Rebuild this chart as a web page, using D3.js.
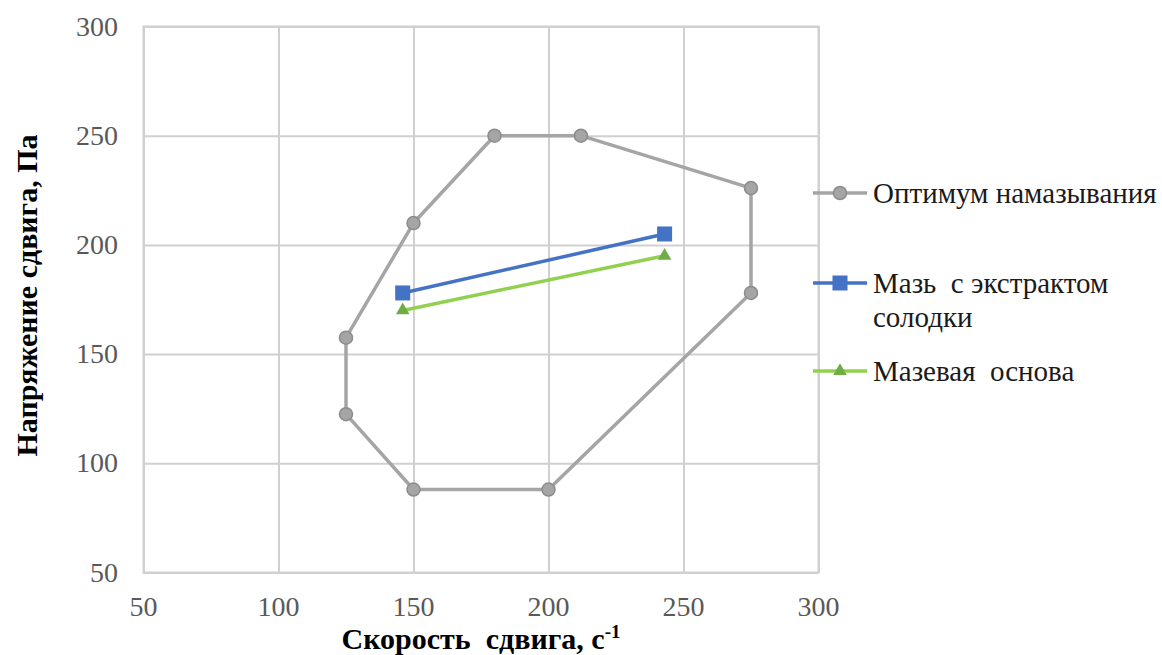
<!DOCTYPE html>
<html>
<head>
<meta charset="utf-8">
<script src="https://cdn.jsdelivr.net/npm/d3@7/dist/d3.min.js"></script>
<style>
  html, body { margin: 0; padding: 0; background: #fff; }
  svg { display: block; }
  svg text, svg tspan { font-family: "Liberation Serif", "Times New Roman", serif !important; }
</style>
</head>
<body>
<svg id="chart" width="1162" height="655"></svg>
<script>
// Shear rate (x) and shear stress (y) values
const optimumX = [150, 180, 212, 275, 275, 200, 150, 125, 125, 150];
const optimumY = [210, 250, 250, 226, 178, 88, 88, 122.5, 157.5, 210];
const ointmentX = [146, 243];
const ointmentY = [178, 205];
const baseX = [146, 243];
const baseY = [170, 195];

const xTicks = [50, 100, 150, 200, 250, 300];
const yTicks = [50, 100, 150, 200, 250, 300];

const seriesNames = ["Оптимум намазывания", ["Мазь  с экстрактом", "солодки"], "Мазевая  основа"];
const xTitle = "Скорость  сдвига, с";
const xTitleSup = "-1";
const yTitle = "Напряжение сдвига, Па";

const svg = d3.select("#chart");
const plot = { left: 143.5, right: 818.5, top: 26.5, bottom: 572.5 };

const x = d3.scaleLinear().domain([50, 300]).range([plot.left, plot.right]);
const y = d3.scaleLinear().domain([50, 300]).range([plot.bottom, plot.top]);

const gridColor = "#D0D0D0";

// Gridlines via axes
svg.append("g")
  .attr("transform", `translate(0,${plot.bottom})`)
  .call(d3.axisBottom(x).tickValues(xTicks).tickSize(-(plot.bottom - plot.top)).tickFormat(""))
  .call(g => g.select(".domain").remove())
  .call(g => g.selectAll("line").attr("stroke", gridColor).attr("stroke-width", 2));

svg.append("g")
  .attr("transform", `translate(${plot.left},0)`)
  .call(d3.axisLeft(y).tickValues(yTicks).tickSize(-(plot.right - plot.left)).tickFormat(""))
  .call(g => g.select(".domain").remove())
  .call(g => g.selectAll("line").attr("stroke", gridColor).attr("stroke-width", 2));

// Plot border
svg.append("rect")
  .attr("x", plot.left).attr("y", plot.top)
  .attr("width", plot.right - plot.left).attr("height", plot.bottom - plot.top)
  .attr("fill", "none").attr("stroke", gridColor).attr("stroke-width", 2);

// Tick labels
svg.append("g").selectAll("text").data(xTicks).join("text")
  .attr("x", d => x(d)).attr("y", 616)
  .attr("text-anchor", "middle")
  .attr("font-size", 28).attr("fill", "#595959")
  .text(d => d);

svg.append("g").selectAll("text").data(yTicks).join("text")
  .attr("x", 118).attr("y", d => y(d) + 9)
  .attr("text-anchor", "end")
  .attr("font-size", 28).attr("fill", "#595959")
  .text(d => d);

// Axis titles
const xt = svg.append("text")
  .attr("x", (plot.left + plot.right) / 2).attr("y", 649)
  .attr("text-anchor", "middle")
  .attr("font-size", 30).attr("font-weight", "bold")
  .style("white-space", "pre").attr("fill", "#000");
xt.append("tspan").text(xTitle);
xt.append("tspan").attr("dy", -11).attr("font-size", 19).text(xTitleSup);

svg.append("text")
  .attr("transform", `translate(37,${(plot.top + plot.bottom) / 2 - 4}) rotate(-90)`)
  .attr("text-anchor", "middle")
  .attr("font-size", 30).attr("font-weight", "bold")
  .attr("fill", "#000")
  .text(yTitle);

const line = d3.line().x(d => x(d[0])).y(d => y(d[1]));
const zip = (a, b) => a.map((v, i) => [v, b[i]]);

const optimum = zip(optimumX, optimumY);
const ointment = zip(ointmentX, ointmentY);
const base = zip(baseX, baseY);

const colors = {
  opt: "#A5A5A5", optStroke: "#8C8C8C",
  blue: "#4472C4",
  greenLine: "#92D050", greenMarker: "#70AD47"
};

// Optimum region outline
svg.append("path").datum(optimum)
  .attr("d", line).attr("fill", "none")
  .attr("stroke", colors.opt).attr("stroke-width", 3.5).attr("stroke-linejoin", "round");

svg.append("g").selectAll("circle").data(optimum.slice(0, -1)).join("circle")
  .attr("cx", d => x(d[0])).attr("cy", d => y(d[1])).attr("r", 6.5)
  .attr("fill", colors.opt).attr("stroke", colors.optStroke).attr("stroke-width", 1.5);

// Ointment with licorice extract
svg.append("path").datum(ointment)
  .attr("d", line).attr("fill", "none")
  .attr("stroke", colors.blue).attr("stroke-width", 3.5);

const sq = 15;
svg.append("g").selectAll("rect").data(ointment).join("rect")
  .attr("x", d => x(d[0]) - sq / 2).attr("y", d => y(d[1]) - sq / 2)
  .attr("width", sq).attr("height", sq).attr("fill", colors.blue);

// Ointment base
svg.append("path").datum(base)
  .attr("d", line).attr("fill", "none")
  .attr("stroke", colors.greenLine).attr("stroke-width", 3.5);

const tri = d3.symbol().type(d3.symbolTriangle).size(80);
svg.append("g").selectAll("path").data(base).join("path")
  .attr("transform", d => `translate(${x(d[0])},${y(d[1])})`)
  .attr("d", tri).attr("fill", colors.greenMarker);

// Legend
const legend = svg.append("g");
const legendRows = [
  { y: 193, type: "circle" },
  { y: 283, type: "square" },
  { y: 371, type: "triangle" }
];
const lx0 = 813, lx1 = 867, lmx = 840, ltx = 873;

legendRows.forEach((row, i) => {
  const g = legend.append("g");
  const stroke = i === 0 ? colors.opt : i === 1 ? colors.blue : colors.greenLine;
  g.append("line").attr("x1", lx0).attr("x2", lx1).attr("y1", row.y).attr("y2", row.y)
    .attr("stroke", stroke).attr("stroke-width", 3.5);
  if (row.type === "circle") {
    g.append("circle").attr("cx", lmx).attr("cy", row.y).attr("r", 6.5)
      .attr("fill", colors.opt).attr("stroke", colors.optStroke).attr("stroke-width", 1.5);
  } else if (row.type === "square") {
    g.append("rect").attr("x", lmx - sq / 2).attr("y", row.y - sq / 2)
      .attr("width", sq).attr("height", sq).attr("fill", colors.blue);
  } else {
    g.append("path").attr("transform", `translate(${lmx},${row.y})`)
      .attr("d", tri).attr("fill", colors.greenMarker);
  }
  const name = seriesNames[i];
  const lines = Array.isArray(name) ? name : [name];
  const t = g.append("text")
    .attr("x", ltx).attr("y", row.y + 10)
    .attr("font-size", 29).style("white-space", "pre")
    .attr("fill", "#1a1a1a");
  lines.forEach((s, j) => {
    t.append("tspan").attr("x", ltx).attr("dy", j === 0 ? 0 : 34).text(s);
  });
});
</script>
</body>
</html>
